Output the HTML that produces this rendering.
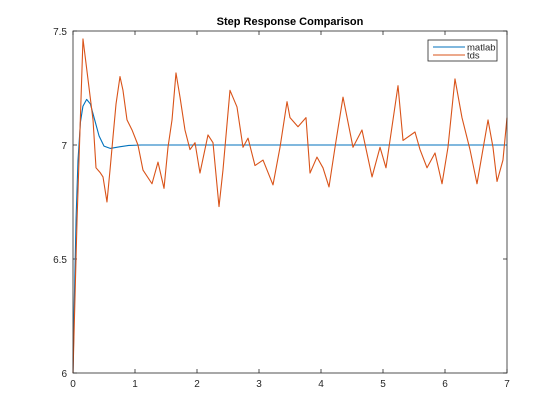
<!DOCTYPE html>
<html><head><meta charset="utf-8"><style>
body{margin:0;background:#fff;}
svg{display:block;font-family:"Liberation Sans",Arial,sans-serif;}
</style></head><body>
<svg id="chart" width="560" height="420" viewBox="0 0 560 420">
<rect x="0" y="0" width="560" height="420" fill="#fff"/>
<text x="290" y="25" text-anchor="middle" font-size="11" font-weight="bold">Step Response Comparison</text>
<g id="plot"></g>
</svg>
<script>
const xTicks=[0,1,2,3,4,5,6,7];
const yTicks=[6,6.5,7,7.5];
const yTickLabels=["6","6.5","7","7.5"];
const matlabT=[0,0.02,0.05,0.08,0.12,0.16,0.22,0.28,0.35,0.42,0.5,0.6,0.75,0.9,1.1,7];
const matlabV=[6,6.3,6.68,6.93,7.1,7.17,7.2,7.18,7.11,7.04,6.995,6.985,6.992,6.998,7,7];
const tdsT=[0,0.065,0.161,0.323,0.371,0.435,0.484,0.548,0.597,0.645,0.694,0.758,0.806,0.871,0.952,1.048,1.129,1.274,1.371,1.468,1.532,1.597,1.661,1.726,1.806,1.887,1.968,2.048,2.177,2.258,2.355,2.419,2.532,2.645,2.742,2.823,2.935,3.065,3.226,3.339,3.452,3.5,3.629,3.758,3.823,3.935,4.032,4.129,4.226,4.355,4.516,4.661,4.823,4.952,5.048,5.242,5.323,5.516,5.597,5.71,5.839,5.952,6.048,6.161,6.274,6.403,6.516,6.694,6.774,6.839,6.935,7.0];
const tdsV=[6.0,6.67,7.465,7.11,6.9,6.88,6.86,6.75,6.89,7.035,7.18,7.3,7.24,7.11,7.066,7.0,6.89,6.83,6.925,6.81,6.99,7.11,7.316,7.21,7.066,6.98,7.01,6.877,7.044,7.01,6.73,6.89,7.24,7.167,6.99,7.03,6.91,6.934,6.825,6.99,7.19,7.12,7.08,7.12,6.877,6.947,6.9,6.816,6.99,7.21,6.99,7.066,6.86,6.99,6.9,7.26,7.02,7.057,6.98,6.9,6.965,6.83,6.99,7.29,7.12,6.98,6.83,7.11,6.99,6.84,6.934,7.12];
const L=73,R=507,T=31,B=373;
const xs=v=>L+(v-0)/(7-0)*(R-L);
const ys=v=>B-(v-6)/(7.5-6)*(B-T);
const NS="http://www.w3.org/2000/svg";
const g=document.getElementById('plot');
function mk(tag,attrs){const e=document.createElementNS(NS,tag);for(const k in attrs)e.setAttribute(k,attrs[k]);g.appendChild(e);return e;}
const bg=mk('rect',{x:L,y:T,width:R-L,height:B-T,fill:'#fff'});


xTicks.forEach(t=>{
 const x=xs(t);
 const a=mk('line',{x1:x,x2:x,y1:B,y2:B-4,stroke:'#262626','stroke-width':0.8});
 
 
 const b=mk('line',{x1:x,x2:x,y1:T,y2:T+4,stroke:'#262626','stroke-width':0.8});
 
 
 const l=mk('text',{x:x,y:B+14,'text-anchor':'middle','font-size':10,fill:'#262626'});
 l.textContent=String(t);
 
 
});
yTicks.forEach((t,i)=>{
 const y=ys(t);
 const a=mk('line',{x1:L,x2:L+4,y1:y,y2:y,stroke:'#262626','stroke-width':0.8});
 
 
 const b=mk('line',{x1:R,x2:R-4,y1:y,y2:y,stroke:'#262626','stroke-width':0.8});
 
 
 const l=mk('text',{x:L-6,y:y+4,'text-anchor':'end','font-size':10,fill:'#262626'});
 l.textContent=yTickLabels[i];
 
 
});
function series(T_,V_,color,name){
 const p=mk('polyline',{points:T_.map((t,i)=>xs(t)+','+ys(V_[i])).join(' '),fill:'none',stroke:color,'stroke-width':1.1,'stroke-linejoin':'round'});
 
 
}
series(matlabT,matlabV,'#0072BD','matlab-line');
series(tdsT,tdsV,'#D95319','tds-line');
const box=mk('rect',{x:L,y:T,width:R-L,height:B-T,fill:'none',stroke:'#262626','stroke-width':0.8});


const lg=mk('rect',{x:428,y:40,width:69,height:21,fill:'#fff',stroke:'#262626','stroke-width':0.8});


[['matlab','#0072BD',47],['tds','#D95319',55]].forEach(([n,c,y])=>{
 const l=mk('line',{x1:433,x2:465,y1:y,y2:y,stroke:c,'stroke-width':1.1});
 
 
 const t=mk('text',{x:467,y:y+3.5,'font-size':9.5,fill:'#262626'});
 t.textContent=n;
 
 
});
</script>
</body></html>
